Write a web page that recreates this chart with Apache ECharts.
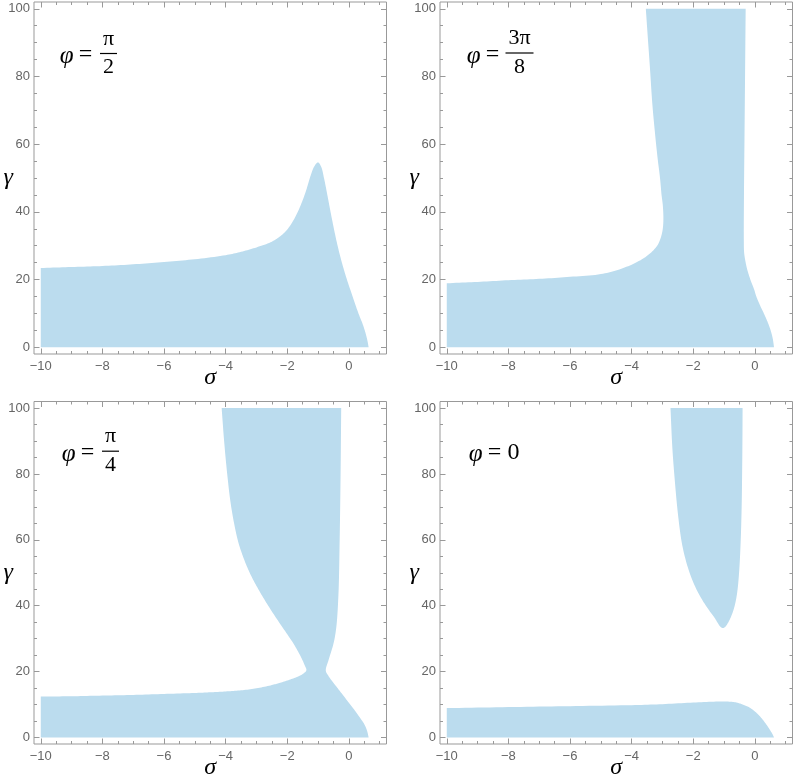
<!DOCTYPE html>
<html>
<head>
<meta charset="utf-8">
<title>Regions in the (sigma^-4, gamma) plane</title>
<script src="https://cdn.jsdelivr.net/npm/echarts@6/dist/echarts.min.js"></script>
<style>
  html, body { margin: 0; padding: 0; background: #fff; }
  #chart { width: 798px; height: 781px; }
</style>
</head>
<body>
<div id="chart"></div>
<script>
// tick positions
const xMajorTicks = [-10, -8, -6, -4, -2, 0];
const xMinorTicks = [-9.5, -9, -8.5, -7.5, -7, -6.5, -5.5, -5, -4.5, -3.5, -3, -2.5, -1.5, -1, -0.5, 0.5, 1];
const yMajorTicks = [0, 20, 40, 60, 80, 100];
const yMinorTicks = [5, 10, 15, 25, 30, 35, 45, 50, 55, 65, 70, 75, 85, 90, 95];

// region outlines as [sigma^-4, gamma] pairs
const regionHalfPi = [
  [-10, 0], [-10, 23.4], [-9, 23.7], [-8, 24.0], [-7, 24.5], [-6, 25.2], [-5, 26.0],
  [-4, 27.2], [-3.5, 28.2], [-3, 29.5], [-2.5, 31.2], [-2.2, 33], [-2, 34.8], [-1.8, 37.5],
  [-1.6, 41.2], [-1.4, 46], [-1.25, 50.5], [-1.12, 53.5], [-1.0, 54.6], [-0.9, 53.3],
  [-0.8, 49.6], [-0.7, 45.0], [-0.6, 40.2], [-0.5, 35.6], [-0.4, 31.3], [-0.3, 27.5],
  [-0.2, 24.1], [-0.065, 20], [0.12, 15], [0.31, 10], [0.44, 7], [0.53, 4.5], [0.6, 2], [0.64, 0]
];
const region3PiOver8 = [
  [-10, 0], [-10, 18.9], [-9, 19.3], [-8, 19.8], [-7, 20.2], [-6, 20.8], [-5, 21.6],
  [-4.4, 23.0], [-4, 24.4], [-3.7, 25.8], [-3.5, 27], [-3.3, 28.6], [-3.15, 30.3],
  [-3.05, 32.5], [-2.99, 35], [-2.97, 38], [-2.99, 42], [-3.03, 45], [-3.08, 50],
  [-3.16, 56], [-3.24, 63], [-3.33, 72], [-3.41, 83], [-3.48, 92], [-3.54, 100],
  [-0.30, 100], [-0.32, 80], [-0.34, 60], [-0.355, 45], [-0.36, 32], [-0.35, 28],
  [-0.31, 25.5], [-0.25, 23], [-0.14, 19.8], [-0.03, 17.2], [0.05, 14.9], [0.17, 12.3],
  [0.29, 10], [0.41, 7.5], [0.51, 5], [0.58, 2.5], [0.62, 0]
];
const regionQuarterPi = [
  [-10, 0], [-10, 12.4], [-9, 12.5], [-8, 12.7], [-7, 12.9], [-6, 13.2], [-5, 13.5],
  [-4.5, 13.7], [-4, 13.95], [-3.5, 14.3], [-3, 14.9], [-2.5, 15.9], [-2.23, 16.6],
  [-1.9, 17.6], [-1.6, 18.7], [-1.45, 19.6], [-1.38, 20.4], [-1.44, 22], [-1.56, 24.5],
  [-1.8, 28.5], [-2.0, 31.3], [-2.27, 35], [-2.62, 40], [-2.94, 45], [-3.22, 50],
  [-3.44, 55], [-3.61, 60], [-3.82, 70], [-3.95, 80], [-4.05, 90], [-4.13, 100],
  [-0.25, 100], [-0.27, 80], [-0.30, 60], [-0.34, 43.3], [-0.41, 33.4], [-0.5, 28.5],
  [-0.66, 23.5], [-0.75, 20.3], [-0.66, 18.6], [-0.52, 16.8], [-0.37, 15.0],
  [-0.23, 13.3], [-0.04, 11.0], [0.15, 8.7], [0.35, 6.1], [0.5, 4.0], [0.59, 2.0], [0.64, 0]
];
const regionZeroUpper = [
  [-2.74, 100], [-0.40, 100], [-0.405, 90], [-0.415, 80], [-0.43, 70], [-0.46, 60],
  [-0.5, 52], [-0.55, 46], [-0.6, 42.5], [-0.67, 39.5], [-0.76, 37], [-0.86, 35],
  [-0.95, 33.7], [-1.03, 33.2], [-1.11, 33.5], [-1.19, 34.5], [-1.3, 36.2], [-1.48, 38.5],
  [-1.68, 41.3], [-1.9, 45], [-2.1, 49.5], [-2.25, 54], [-2.38, 59.5], [-2.5, 68],
  [-2.6, 78], [-2.68, 88]
];
const regionZeroLower = [
  [-10, 0], [-10, 8.9], [-8, 9.2], [-6, 9.5], [-4, 9.8], [-3, 10.1], [-2, 10.6],
  [-1.2, 10.9], [-0.9, 10.9], [-0.6, 10.6], [-0.4, 10.0], [-0.2, 9.2], [0, 7.9],
  [0.2, 6.0], [0.35, 4.2], [0.48, 2.4], [0.57, 1.0], [0.62, 0]
];

const FILL = '#bbdcee';
const FRAME = '#999999';
const LABEL = '#666666';
const SERIF = '"Liberation Serif", "DejaVu Serif", serif';
const SANS = '"Liberation Sans", Arial, sans-serif';

// one entry per panel: grid corner, regions, and where the "=" of the phi label sits
const panels = [
  { left: 34, top: 2, regions: [regionHalfPi], num: 'π', den: '2', eq: [85.5, 55] },
  { left: 440, top: 2, regions: [region3PiOver8], num: '3π', den: '8', eq: [492.5, 54.5] },
  { left: 34, top: 401.5, regions: [regionQuarterPi], num: 'π', den: '4', eq: [87.5, 452.7] },
  { left: 440, top: 401.5, regions: [regionZeroUpper, regionZeroLower], whole: '0', eq: [494.5, 452.5] }
];

const fmt = v => String(v).replace('-', '\u2212');

// edges that lie on the plot range (x=-10, y=0, y=100) stay straight
const onEdge = (d, e) => (d[0] === -10 && e[0] === -10) || (d[1] === 0 && e[1] === 0) || (d[1] === 100 && e[1] === 100);

// smooth outline in pixel space: centripetal Catmull-Rom through the pixel points
function outline(data, px) {
  const n = data.length;
  const straight = data.map((d, i) => onEdge(d, data[(i + 1) % n]));
  const out = [];
  const knot = (a, b, t) => t + Math.max(Math.sqrt(Math.hypot(b[0] - a[0], b[1] - a[1])), 1e-6);
  for (let a = 0; a < n; a++) {
    const b = (a + 1) % n;
    const p1 = px[a], p2 = px[b];
    if (straight[a]) { out.push(p1); continue; }
    const p0 = straight[(a - 1 + n) % n] ? [2 * p1[0] - p2[0], 2 * p1[1] - p2[1]] : px[(a - 1 + n) % n];
    const p3 = straight[b] ? [2 * p2[0] - p1[0], 2 * p2[1] - p1[1]] : px[(b + 1) % n];
    const t0 = 0, t1 = knot(p0, p1, t0), t2 = knot(p1, p2, t1), t3 = knot(p2, p3, t2);
    const steps = 10;
    for (let s = 0; s < steps; s++) {
      const t = t1 + (t2 - t1) * s / steps;
      const lerp = (P, Q, ta, tb) => [
        (tb - t) / (tb - ta) * P[0] + (t - ta) / (tb - ta) * Q[0],
        (tb - t) / (tb - ta) * P[1] + (t - ta) / (tb - ta) * Q[1]
      ];
      const A1 = lerp(p0, p1, t0, t1), A2 = lerp(p1, p2, t1, t2), A3 = lerp(p2, p3, t2, t3);
      const B1 = lerp(A1, A2, t0, t2), B2 = lerp(A2, A3, t1, t3);
      out.push(lerp(B1, B2, t1, t2));
    }
  }
  return out;
}

const grid = [];
const xAxis = [];
const yAxis = [];
const series = [];
const graphic = [];

panels.forEach((p, g) => {
  grid.push({
    left: p.left, top: p.top, width: 352.5, height: 352,
    show: true, borderColor: FRAME, borderWidth: 1, backgroundColor: 'transparent'
  });

  const tick = (values, len) => ({ show: true, inside: true, length: len, customValues: values,
    lineStyle: { color: FRAME, width: 1 } });
  const nameStyle = { fontFamily: SERIF, fontStyle: 'italic', fontSize: 24, color: '#000' };

  const xbase = { gridIndex: g, type: 'value', min: -10.22, max: 1.22,
    axisLine: { show: false, onZero: false }, splitLine: { show: false } };
  xAxis.push(Object.assign({}, xbase, {
    position: 'bottom',
    axisTick: tick(xMajorTicks, 5.5),
    axisLabel: { customValues: xMajorTicks, formatter: fmt, color: LABEL, fontSize: 13, fontFamily: SANS, margin: 6 },
    name: 'σ', nameLocation: 'middle', nameGap: 12, nameMoveOverlap: false, nameTextStyle: nameStyle
  }));
  xAxis.push(Object.assign({}, xbase, { position: 'bottom', axisTick: tick(xMinorTicks, 3), axisLabel: { show: false } }));
  xAxis.push(Object.assign({}, xbase, { position: 'top', axisTick: tick(xMajorTicks, 5.5), axisLabel: { show: false } }));
  xAxis.push(Object.assign({}, xbase, { position: 'top', axisTick: tick(xMinorTicks, 3), axisLabel: { show: false } }));

  const ybase = { gridIndex: g, type: 'value', min: -2, max: 102,
    axisLine: { show: false, onZero: false }, splitLine: { show: false } };
  yAxis.push(Object.assign({}, ybase, {
    position: 'left',
    axisTick: tick(yMajorTicks, 5.5),
    axisLabel: { customValues: yMajorTicks, color: LABEL, fontSize: 13, fontFamily: SANS, margin: 4 },
    name: 'γ', nameLocation: 'middle', nameGap: 21, nameRotate: 0, nameMoveOverlap: false, nameTextStyle: nameStyle
  }));
  yAxis.push(Object.assign({}, ybase, { position: 'left', axisTick: tick(yMinorTicks, 3), axisLabel: { show: false } }));
  yAxis.push(Object.assign({}, ybase, { position: 'right', axisTick: tick(yMajorTicks, 5.5), axisLabel: { show: false } }));
  yAxis.push(Object.assign({}, ybase, { position: 'right', axisTick: tick(yMinorTicks, 3), axisLabel: { show: false } }));

  p.regions.forEach(points => {
    series.push({
      type: 'custom',
      xAxisIndex: g * 4,
      yAxisIndex: g * 4,
      silent: true,
      clip: true,
      data: points,
      renderItem: (params, api) => {
        if (params.dataIndex !== 0) return null;
        return {
          type: 'polygon',
          shape: { points: outline(points, points.map(pt => api.coord(pt))) },
          style: { fill: FILL }
        };
      }
    });
  });

  // phi annotation
  const [ex, ey] = p.eq;
  graphic.push({ type: 'text', x: ex - 12, y: ey + 1.5,
    style: { text: 'φ', font: 'italic 25px ' + SERIF, fill: '#000', align: 'right', verticalAlign: 'middle' } });
  graphic.push({ type: 'text', x: ex, y: ey,
    style: { text: '=', font: '24px ' + SERIF, fill: '#000', align: 'center', verticalAlign: 'middle' } });
  if (p.whole) {
    graphic.push({ type: 'text', x: ex + 13, y: ey,
      style: { text: p.whole, font: '24px ' + SERIF, fill: '#000', align: 'left', verticalAlign: 'middle' } });
  } else {
    const fx = ex + 23 + (p.num.length - 1) * 4;
    const hw = p.num.length > 1 ? 14 : 8.5;
    graphic.push({ type: 'text', x: fx, y: ey - 16,
      style: { text: p.num, font: '22px ' + SERIF, fill: '#000', align: 'center', verticalAlign: 'middle' } });
    graphic.push({ type: 'line', shape: { x1: fx - hw, y1: ey - 1.5, x2: fx + hw, y2: ey - 1.5 },
      style: { stroke: '#000', lineWidth: 1.2 } });
    graphic.push({ type: 'text', x: fx, y: ey + 12.5,
      style: { text: p.den, font: '22px ' + SERIF, fill: '#000', align: 'center', verticalAlign: 'middle' } });
  }
});

const chart = echarts.init(document.getElementById('chart'), null, { renderer: 'canvas' });
chart.setOption({
  backgroundColor: '#ffffff',
  animation: false,
  grid, xAxis, yAxis, series, graphic
});
</script>
</body>
</html>
